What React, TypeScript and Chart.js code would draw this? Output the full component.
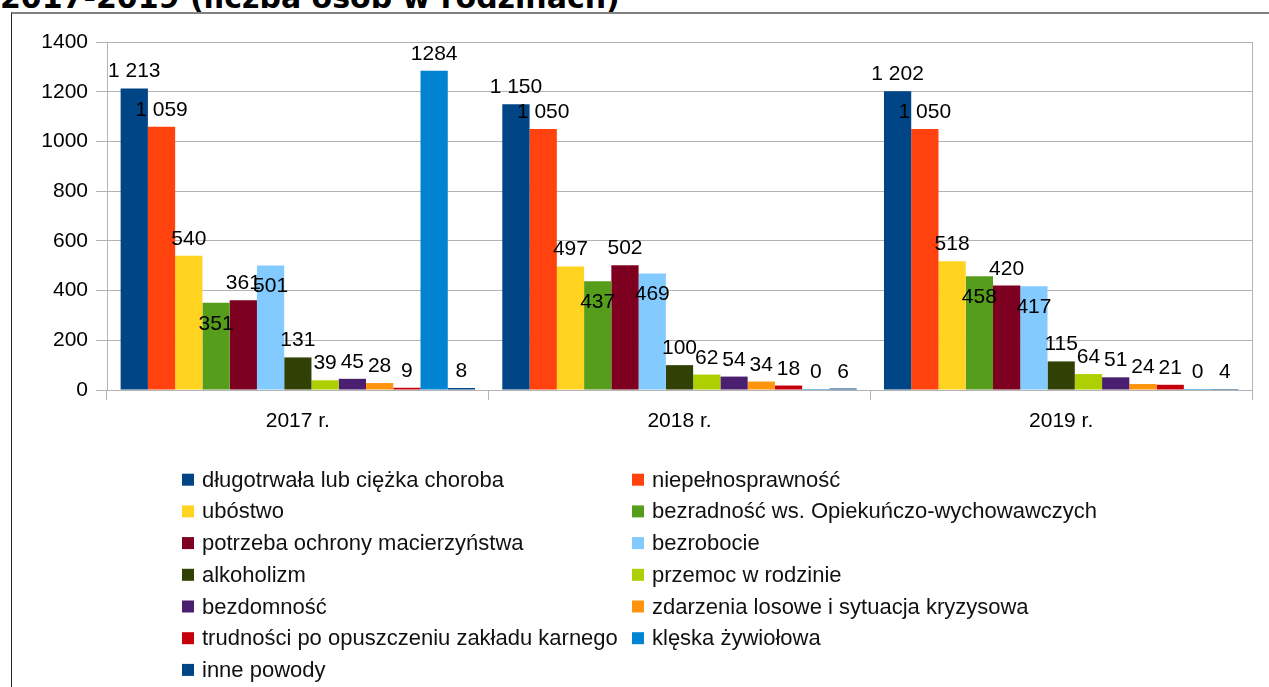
import React, { useEffect, useRef } from "react";
import { Chart, registerables } from "chart.js";

Chart.register(...registerables);

const categories = ["2017 r.", "2018 r.", "2019 r."];

const seriesNames = [
  "długotrwała lub ciężka choroba",
  "niepełnosprawność",
  "ubóstwo",
  "bezradność ws. Opiekuńczo-wychowawczych",
  "potrzeba ochrony macierzyństwa",
  "bezrobocie",
  "alkoholizm",
  "przemoc w rodzinie",
  "bezdomność",
  "zdarzenia losowe i sytuacja kryzysowa",
  "trudności po opuszczeniu zakładu karnego",
  "klęska żywiołowa",
  "inne powody",
];

const values2017 = [1213, 1059, 540, 351, 361, 501, 131, 39, 45, 28, 9, 1284, 8];
const values2018 = [1150, 1050, 497, 437, 502, 469, 100, 62, 54, 34, 18, 0, 6];
const values2019 = [1202, 1050, 518, 458, 420, 417, 115, 64, 51, 24, 21, 0, 4];

const seriesColors = [
  "#004586",
  "#ff420e",
  "#ffd320",
  "#579d1c",
  "#7e0021",
  "#83caff",
  "#314004",
  "#aecf00",
  "#4b1f6f",
  "#ff950e",
  "#c5000b",
  "#0084d1",
  "#004586",
];

const yTickValues = [0, 200, 400, 600, 800, 1000, 1200, 1400];
const yTickLabels = ["0", "200", "400", "600", "800", "1000", "1200", "1400"];

// label style per series: which series have labels pushed inside the bar, and which are not grouped with a space
const insideLabelSeries = [3, 5];
const ungroupedLabelSeries = [11];

const TITLE = "2017-2019 (liczba osób w rodzinach)";
const FONT = '"Liberation Sans", Arial, sans-serif';

function formatValue(v: number, grouped: boolean): string {
  const s = String(v);
  if (!grouped || s.length <= 3) return s;
  return s.replace(/\B(?=(\d{3})+(?!\d))/g, " ");
}

const labelPlugin = {
  id: "barLabels",
  afterDatasetsDraw(chart: any) {
    const ctx = chart.ctx;
    ctx.save();
    ctx.font = `21px ${FONT}`;
    ctx.fillStyle = "#000";
    ctx.textAlign = "center";
    ctx.textBaseline = "alphabetic";
    chart.data.datasets.forEach((ds: any, di: number) => {
      const meta = chart.getDatasetMeta(di);
      const inside = insideLabelSeries.includes(di);
      const grouped = !ungroupedLabelSeries.includes(di);
      meta.data.forEach((el: any, i: number) => {
        const v = ds.data[i];
        const y = inside ? el.y + 27 : el.y - 11;
        ctx.fillText(formatValue(v, grouped), el.x, y);
      });
    });
    ctx.restore();
  },
};

const framePlugin = {
  id: "plotFrame",
  beforeDatasetsDraw(chart: any) {
    const { ctx, chartArea } = chart;
    ctx.save();
    ctx.strokeStyle = "#b3b3b3";
    ctx.lineWidth = 1;
    ctx.beginPath();
    const x = Math.round(chartArea.right) + 0.5;
    ctx.moveTo(x, chartArea.top);
    ctx.lineTo(x, chartArea.bottom);
    ctx.stroke();
    ctx.restore();
  },
};

const legendPlugin = {
  id: "twoColumnLegend",
  afterDraw(chart: any) {
    const ctx = chart.ctx;
    ctx.save();
    ctx.font = `22px ${FONT}`;
    ctx.textAlign = "left";
    ctx.textBaseline = "middle";
    const colX = [182, 632];
    const firstRow = 479.7;
    const rowStep = 31.7;
    seriesNames.forEach((name, i) => {
      const x = colX[i % 2];
      const cy = firstRow + Math.floor(i / 2) * rowStep;
      ctx.fillStyle = seriesColors[i];
      ctx.fillRect(x, cy - 6, 12, 12);
      ctx.fillStyle = "#111";
      ctx.fillText(name, x + 20, cy + 1);
    });
    ctx.restore();
  },
};

export default function App() {
  const canvasRef = useRef<HTMLCanvasElement | null>(null);

  useEffect(() => {
    if (!canvasRef.current) return;
    const datasets = seriesNames.map((name, i) => ({
      label: name,
      data: [values2017[i], values2018[i], values2019[i]],
      backgroundColor: seriesColors[i],
      borderWidth: 0,
      categoryPercentage: 13 / 14,
      barPercentage: 1.0,
      minBarLength: 1,
    }));

    const chart = new Chart(canvasRef.current, {
      type: "bar",
      data: { labels: categories, datasets },
      options: {
        responsive: false,
        animation: false,
        devicePixelRatio: 1,
        layout: { padding: { left: 0, top: 42, right: 17, bottom: 237 } },
        plugins: {
          legend: { display: false },
          tooltip: { enabled: false },
          title: { display: false },
        },
        scales: {
          x: {
            grid: {
              offset: true,
              drawOnChartArea: false,
              color: "#b3b3b3",
              tickLength: 10,
            },
            border: { color: "#b3b3b3" },
            ticks: {
              color: "#000",
              font: { family: FONT, size: 21 },
              padding: 9,
            },
            afterFit(scale: any) {
              scale.height = 60;
            },
          },
          y: {
            min: 0,
            max: 1400,
            afterBuildTicks(scale: any) {
              scale.ticks = yTickValues.map((v) => ({ value: v }));
            },
            grid: { color: "#b3b3b3", tickLength: 11 },
            border: { color: "#b3b3b3" },
            ticks: {
              color: "#000",
              font: { family: FONT, size: 21 },
              padding: 8,
              callback: (value: any) => {
                const idx = yTickValues.indexOf(Number(value));
                return idx >= 0 ? yTickLabels[idx] : String(value);
              },
            },
            afterFit(scale: any) {
              scale.width = 107;
            },
          },
        },
      },
      plugins: [framePlugin, labelPlugin, legendPlugin],
    });
    return () => chart.destroy();
  }, []);

  return (
    <div
      style={{
        position: "fixed",
        left: 0,
        top: 0,
        width: 1269,
        height: 687,
        background: "#fff",
        overflow: "hidden",
      }}
    >
      <div
        style={{
          position: "absolute",
          left: 0,
          top: -17,
          fontFamily: '"DejaVu Sans", Verdana, sans-serif',
          fontWeight: "bold",
          fontSize: 30,
          lineHeight: "30px",
          whiteSpace: "nowrap",
          color: "#000",
        }}
      >
        {TITLE}
      </div>
      <div
        style={{
          position: "absolute",
          left: 11,
          top: 12,
          width: 1270,
          height: 700,
          borderLeft: "1px solid #222",
          borderTop: "2px solid #808080",
          boxSizing: "border-box",
        }}
      />
      <canvas
        ref={canvasRef}
        width={1269}
        height={687}
        style={{ position: "absolute", left: 0, top: 0, width: 1269, height: 687 }}
      />
    </div>
  );
}
